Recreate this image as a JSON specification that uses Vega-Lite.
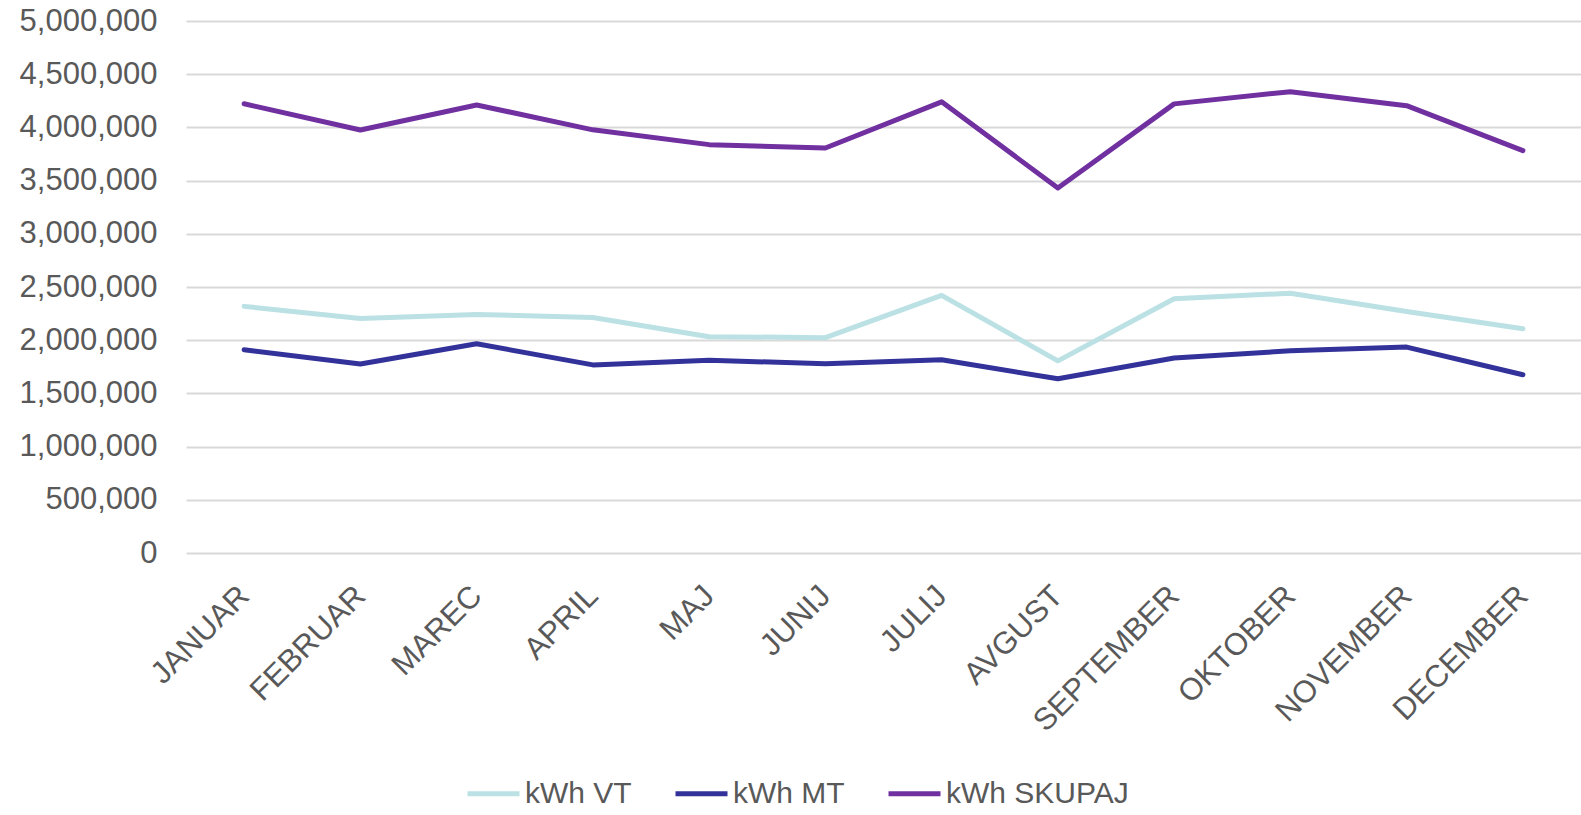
{
  "$schema": "https://vega.github.io/schema/vega-lite/v6.json",
  "autosize": {"type": "none"},
  "width": 1395,
  "height": 532,
  "padding": {"left": 186, "top": 21, "right": 0, "bottom": 262},
  "background": "white",
  "config": {
    "view": {"stroke": null},
    "font": "Liberation Sans",
    "axis": {"labelFont": "Liberation Sans", "labelColor": "#595959", "labelFontSize": 31, "labelLimit": 400}
  },
  "data": {
    "values": [
      {"month": "JANUAR", "series": "kWh VT", "value": 2318000},
      {"month": "FEBRUAR", "series": "kWh VT", "value": 2204000},
      {"month": "MAREC", "series": "kWh VT", "value": 2242000},
      {"month": "APRIL", "series": "kWh VT", "value": 2213000},
      {"month": "MAJ", "series": "kWh VT", "value": 2033000},
      {"month": "JUNIJ", "series": "kWh VT", "value": 2024000},
      {"month": "JULIJ", "series": "kWh VT", "value": 2421000},
      {"month": "AVGUST", "series": "kWh VT", "value": 1806000},
      {"month": "SEPTEMBER", "series": "kWh VT", "value": 2389000},
      {"month": "OKTOBER", "series": "kWh VT", "value": 2442000},
      {"month": "NOVEMBER", "series": "kWh VT", "value": 2269000},
      {"month": "DECEMBER", "series": "kWh VT", "value": 2107000},
      {"month": "JANUAR", "series": "kWh MT", "value": 1910000},
      {"month": "FEBRUAR", "series": "kWh MT", "value": 1777000},
      {"month": "MAREC", "series": "kWh MT", "value": 1967000},
      {"month": "APRIL", "series": "kWh MT", "value": 1768000},
      {"month": "MAJ", "series": "kWh MT", "value": 1812000},
      {"month": "JUNIJ", "series": "kWh MT", "value": 1778000},
      {"month": "JULIJ", "series": "kWh MT", "value": 1816000},
      {"month": "AVGUST", "series": "kWh MT", "value": 1637000},
      {"month": "SEPTEMBER", "series": "kWh MT", "value": 1832000},
      {"month": "OKTOBER", "series": "kWh MT", "value": 1900000},
      {"month": "NOVEMBER", "series": "kWh MT", "value": 1935000},
      {"month": "DECEMBER", "series": "kWh MT", "value": 1675000},
      {"month": "JANUAR", "series": "kWh SKUPAJ", "value": 4222000},
      {"month": "FEBRUAR", "series": "kWh SKUPAJ", "value": 3976000},
      {"month": "MAREC", "series": "kWh SKUPAJ", "value": 4211000},
      {"month": "APRIL", "series": "kWh SKUPAJ", "value": 3977000},
      {"month": "MAJ", "series": "kWh SKUPAJ", "value": 3838000},
      {"month": "JUNIJ", "series": "kWh SKUPAJ", "value": 3806000},
      {"month": "JULIJ", "series": "kWh SKUPAJ", "value": 4240000},
      {"month": "AVGUST", "series": "kWh SKUPAJ", "value": 3430000},
      {"month": "SEPTEMBER", "series": "kWh SKUPAJ", "value": 4221000},
      {"month": "OKTOBER", "series": "kWh SKUPAJ", "value": 4336000},
      {"month": "NOVEMBER", "series": "kWh SKUPAJ", "value": 4204000},
      {"month": "DECEMBER", "series": "kWh SKUPAJ", "value": 3782000}
    ]
  },
  "mark": {"type": "line", "strokeWidth": 5, "strokeCap": "round", "strokeJoin": "round"},
  "encoding": {
    "x": {
      "field": "month",
      "type": "ordinal",
      "sort": ["JANUAR", "FEBRUAR", "MAREC", "APRIL", "MAJ", "JUNIJ", "JULIJ", "AVGUST", "SEPTEMBER", "OKTOBER", "NOVEMBER", "DECEMBER"],
      "scale": {"type": "point", "padding": 0.5},
      "axis": {
        "title": null,
        "domain": false,
        "ticks": false,
        "grid": false,
        "labelAngle": -45,
        "labelAlign": "right",
        "labelBaseline": "middle",
        "labelPadding": 38
      }
    },
    "y": {
      "field": "value",
      "type": "quantitative",
      "scale": {"domain": [0, 5000000], "nice": false, "zero": true},
      "axis": {
        "title": null,
        "domain": false,
        "ticks": false,
        "values": [0, 500000, 1000000, 1500000, 2000000, 2500000, 3000000, 3500000, 4000000, 4500000, 5000000],
        "format": ",d",
        "labelPadding": 29,
        "gridColor": "#d9d9d9",
        "gridWidth": 2
      }
    },
    "color": {
      "field": "series",
      "type": "nominal",
      "scale": {"domain": ["kWh VT", "kWh MT", "kWh SKUPAJ"], "range": ["#BBE1E4", "#32329A", "#7030A0"]},
      "legend": {
        "title": null,
        "orient": "none",
        "direction": "horizontal",
        "legendX": 279,
        "legendY": 744,
        "symbolType": "stroke",
        "symbolSize": 2704,
        "symbolStrokeWidth": 5,
        "labelFont": "Liberation Sans",
        "labelFontSize": 30,
        "labelColor": "#595959",
        "labelLimit": 400,
        "labelOffset": 3,
        "columnPadding": 33
      }
    }
  }
}
